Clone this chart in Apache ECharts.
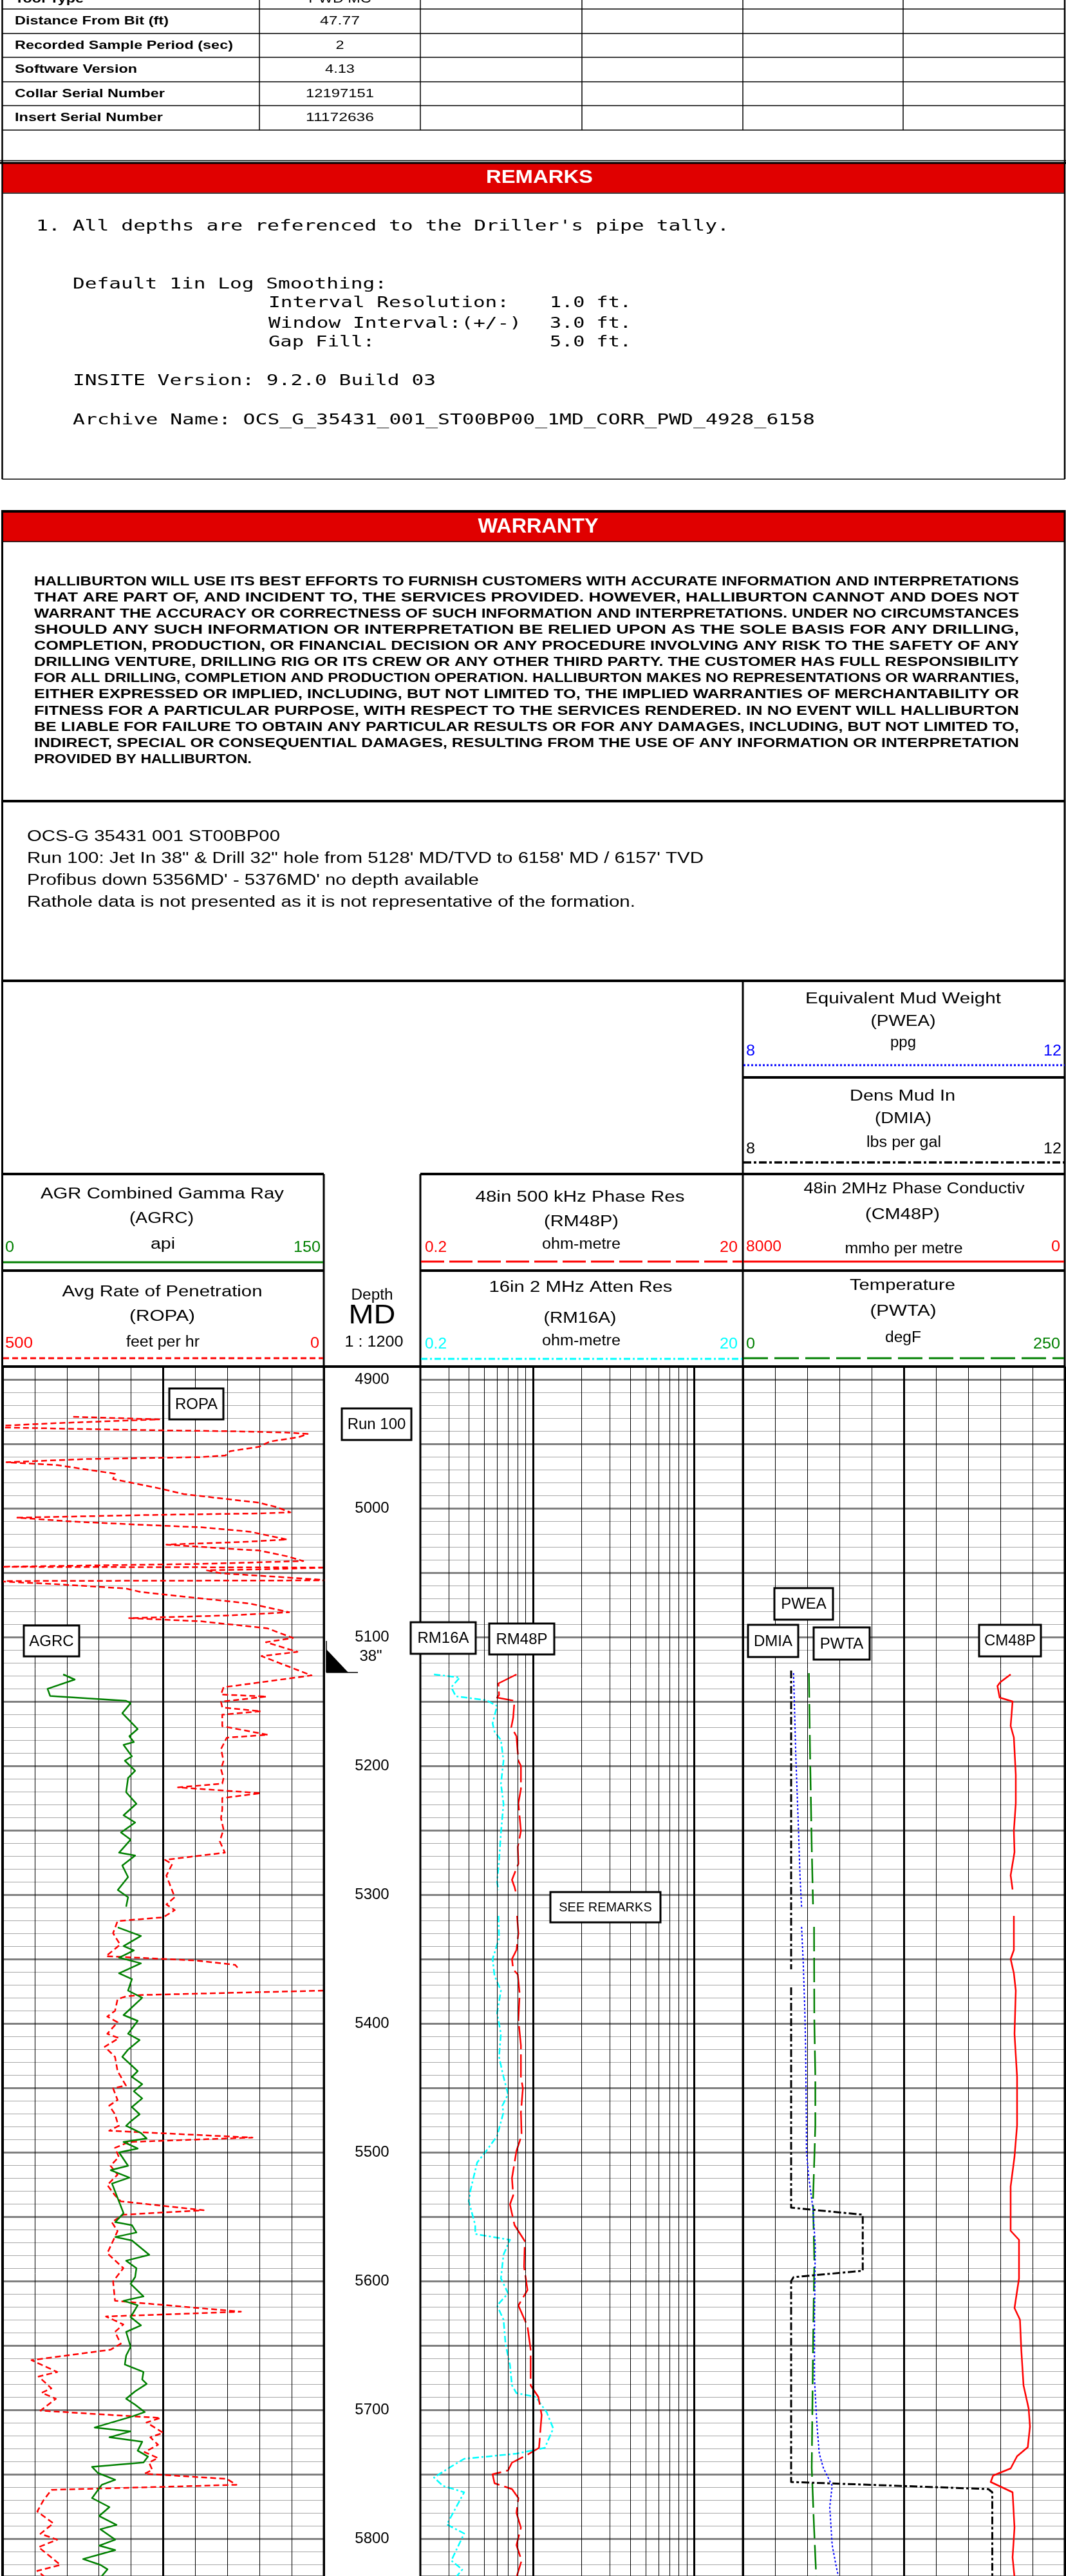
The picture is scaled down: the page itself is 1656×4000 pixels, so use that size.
<!DOCTYPE html>
<html><head><meta charset="utf-8">
<script src="https://cdn.jsdelivr.net/npm/echarts@6/dist/echarts.min.js"></script>
<style>html,body{margin:0;padding:0;background:#fff}#c{width:1656px;height:4000px}</style>
</head><body><div id="c"></div>
<script>
// ---------------- DATA ----------------
const depthRange = [4900, 5829];
const tableLabels = ['Tool Type','Distance From Bit (ft)','Recorded Sample Period (sec)','Software Version','Collar Serial Number','Insert Serial Number'];
const tableValues = ['PWD MC','47.77','2','4.13','12197151','11172636'];
const depthLabelStep = 100;
const logGridValues = [0.3,0.4,0.5,0.6,0.7,0.8,0.9,1,2,3,4,5,6,7,8,9,10];
// [depth ft, ROP ft/hr]
const ropa = [[4929,390],[4931,256],[4934,420],[4936,505],[4937.3,500],[4938.5,370],[4939.5,254],[4940.2,146],[4941.2,57],[4942.3,25],[4944.8,39],[4948.2,84],[4952.3,101],[4955.7,146],[4959,153],[4960.3,191],[4961.8,370],[4964.3,494],[4966.5,415],[4973.2,325],[4977.3,328],[4984.8,254],[4989,218],[4995.7,101],[4999,74],[5003.2,52],[5004,101],[5005.3,281],[5007.3,477],[5010.3,392],[5012.7,290],[5014.8,191],[5018.2,115],[5024.3,57],[5026,119],[5028.2,245],[5031.5,146],[5032.8,101],[5037.3,57],[5041,32],[5043.2,191],[5045.5,515],[5046,-10],[5047,60],[5048.2,182],[5050.5,160],[5053,80],[5056,-10],[5056.5,515],[5059,415],[5062.3,308],[5065,285],[5070,191],[5074,115],[5080.7,54],[5083.2,146],[5085.3,303],[5087.8,191],[5093.2,88],[5100.7,48],[5104,90],[5111.5,41],[5114.8,97],[5129.8,19],[5139,156],[5144.6,160],[5146.2,89],[5150.2,160],[5154.7,158],[5157.6,98],[5160.3,158],[5169.2,158],[5175.9,87],[5178.1,151],[5187,160],[5196,156],[5202.7,160],[5209.4,156],[5213.8,158],[5216.7,227],[5221.2,98],[5225,158],[5233.9,158],[5240.6,160],[5249.5,156],[5258.5,162],[5267.4,154],[5273,247],[5276.3,236],[5285.2,245],[5302,232],[5307.6,245],[5312,232],[5317.6,250],[5320.5,321],[5329.9,328],[5338.8,317],[5347.8,339],[5351.1,200],[5354.5,138],[5358.5,131],null,[5374.5,0],[5377.9,283],[5379,308],[5381.2,321],[5390.2,325],[5394.6,337],[5399.1,321],[5408,337],[5411.4,319],[5418.1,341],[5425.9,325],[5437,321],[5448.2,308],[5450.4,328],[5459.4,321],[5463.8,334],[5470.5,325],[5477.2,321],[5479.4,319],[5483.3,334],[5488.6,111],[5492,303],[5496.6,325],[5503.6,319],[5510.5,332],[5517.4,321],[5525.5,337],[5533.5,325],[5538.1,316],[5545,187],[5548.5,312],[5554.3,330],[5561.2,321],[5578.4,337],[5590,312],[5600.3,328],[5615.3,325],[5623.8,129],[5627.5,339],[5633.7,312],[5639.5,325],[5648.7,316],[5653.3,332],[5661.4,455],[5670.6,415],[5674.1,444],[5683.3,424],[5686.7,439],[5691.4,417],[5700.6,441],[5706.3,254],[5709.8,276],[5717.8,250],[5721.3,270],[5727.1,258],[5732.8,279],[5737.4,258],[5740.9,272],[5746.6,267],[5749.6,279],[5753.6,151],[5758.2,136],[5762.1,424],[5770.8,437],[5778.9,446],[5788.1,421],[5796.2,441],[5800.8,415],[5806.6,444],[5814.6,424],[5820.4,410],[5825,446],[5830.3,433]];
// [depth, API]
const agrc = [[5129,28.3],[5133,33.7],[5140.2,21],[5145.7,22.2],[5149.5,57.7],[5151.3,59.8],[5159.1,55.9],[5171.4,63.1],[5177,59.2],[5181.5,61.3],[5183.7,56.5],[5192.6,60.4],[5196,57.1],[5203.8,61.9],[5209.4,58.6],[5220.5,57.7],[5229.4,62.5],[5238.4,56.5],[5244,61.9],[5251.8,55.3],[5257.3,59.8],[5267.4,54.4],[5269.6,61.9],[5277.4,55.9],[5286.4,58.6],[5296.4,53.8],[5302,58.6],[5309.4,57.7],null,[5325.4,53.8],[5332.1,64.6],[5339.9,56.5],[5343.3,61.3],[5348.9,54.4],[5353.3,64.6],[5361.1,54.4],[5365.6,60.4],[5374.5,58.6],[5380.1,65.2],[5393.5,56.5],[5398,63.1],[5408,58.6],[5412.9,64],[5420.3,58.6],[5425.9,55.9],[5437,63.1],[5441.5,60.4],[5447.1,65.2],[5452.7,61.3],[5458.2,65.2],[5464.9,60.4],[5470.5,64],[5476.1,59.8],[5479.4,57.7],[5485.1,64.6],[5489.3,67.3],[5492,56.5],[5497.1,63.1],[5500.1,54.4],[5510.5,58.6],[5513.9,50.5],[5519.7,59.2],[5524.3,51.1],[5535.8,53.8],[5547.3,56.5],[5554.3,52.6],[5556.6,60.4],[5562.3,62.5],[5565.8,52.6],[5568.5,60.4],[5579.6,68.5],[5584.2,57.7],[5590,62.5],[5596.9,61.9],[5602.2,59.8],[5611.9,65.8],[5615.3,56.5],[5618.8,63.1],[5628,59.8],[5634.4,64.6],[5639.5,57.7],[5651,59.8],[5657.9,57.7],[5664.8,57.1],[5670.6,65.8],[5676.4,65.2],[5679.8,67.3],[5685.6,61.9],[5691.4,57.7],[5696,61.9],[5701.7,66.4],[5705.2,60.4],[5713.7,43],[5716.7,59.8],[5721.3,49.9],[5724.8,65.2],[5731.7,63.1],[5736.3,67.9],[5740.9,65.8],[5744.3,41.8],[5749,44.5],[5754.3,52.6],[5758.2,46.3],[5768.5,41.8],[5775.5,49.9],[5782.4,45.1],[5789.3,53.2],[5792.7,45.7],[5800.8,52.6],[5805.4,45.1],[5808.9,52.6],[5815.8,37.6],[5820.4,45.7],[5823.8,49],[5830.3,45.7]];
// [depth, ohm-m]
const rm48p = [[5129,0.79],[5136,0.61],[5145,0.615],[5147,0.598],[5149.5,0.767],[5162.5,0.753],[5170,0.733],[5177,0.789],[5196,0.811],[5200,0.841],[5218,0.841],[5229,0.811],[5250.5,0.841],[5263,0.804],[5276,0.811],[5288.5,0.74],[5294,0.767],[5297.5,0.78],null,[5316.5,0.796],[5330,0.811],[5343,0.789],[5350,0.74],[5358,0.753],[5362,0.804],[5377,0.826],[5397,0.811],[5417,0.841],[5441.5,0.841],[5450.5,0.865],[5457,0.856],[5469,0.841],[5487,0.849],[5499,0.789],[5520,0.74],[5533.5,0.753],[5540.5,0.719],[5556.5,0.767],[5569,0.889],[5589,0.88],[5607,0.923],[5619,0.811],[5635,0.923],[5653,0.966],[5681,0.966],[5690,1.079],[5704,1.13],[5729.5,1.089],[5734,0.948],[5741,0.74],[5747,0.70],[5750,0.561],[5757,0.577],[5761.5,0.74],[5768.5,0.811],[5780,0.789],[5791.5,0.841],[5805,0.789],[5817,0.849],[5830,0.789]];
const rm16a = [[5129,0.243],[5131.5,0.351],[5139,0.311],[5146,0.332],[5149,0.512],[5153.5,0.598],[5167,0.561],[5173.5,0.577],[5180,0.632],[5196,0.656],[5214,0.632],[5229.5,0.656],[5252,0.632],[5274,0.615],[5290,0.598],[5296.5,0.61],null,[5316.5,0.61],[5334,0.615],[5350,0.561],[5363,0.577],[5374.5,0.632],[5392,0.598],[5408,0.632],[5426,0.615],[5441.5,0.656],[5455,0.70],[5464,0.644],[5469,0.656],[5487.5,0.598],[5499,0.512],[5508,0.45],[5529,0.41],[5538,0.399],[5556.5,0.438],[5563.5,0.438],[5568,0.719],[5579.5,0.656],[5598,0.632],[5609.5,0.70],[5619,0.598],[5630,0.656],[5649,0.675],[5665,0.719],[5681,0.74],[5687,0.789],[5690,1.04],[5702,1.216],[5714.5,1.334],[5729.5,1.183],[5734,0.789],[5738,0.374],[5744,0.311],[5752.5,0.243],[5759,0.276],[5764,0.374],[5789,0.292],[5796,0.374],[5817,0.311],[5824,0.364],[5830,0.332]];
// [depth, ppg]
const pwea = [[5128,8.63],[5196,8.66],[5247,8.69],[5285,8.71],[5310,8.73],null,[5325,8.73],[5352,8.75],[5390,8.77],[5419,8.78],[5479,8.79],[5499,8.79],[5520,8.82],[5543,8.87],[5573,8.9],[5630,8.89],[5676,8.89],[5711,8.92],[5734,8.95],[5745,9.0],[5759,9.11],[5775.5,9.08],[5805,9.11],[5821.5,9.16],[5830,9.19]];
const dmia = [[5126,8.6],[5358,8.6],null,[5372,8.6],[5543,8.6],[5548.5,9.49],[5592,9.49],[5597,8.63],[5600,8.6],[5756,8.6],[5761.5,11.05],[5764,11.1],[5830,11.1]];
// [depth, degF]
const pwta = [[5128,51.3],[5196,52.3],[5263,53.5],[5307.5,54.5],null,[5325,55.3],[5397,55.5],[5441.5,56.3],[5479,56.3],[5538,54.5],[5584,55.5],[5653,54.5],[5699,54],[5745,53.5],[5791.5,55.3],[5830,57]];
// [depth, mmho/m]
const cm48p = [[5129,1344],[5135,1600],[5138,1672],[5147,1616],[5150,1296],[5169,1344],[5178,1264],[5207,1216],[5229,1216],[5250.5,1264],[5267,1248],[5285,1344],[5296,1296],null,[5316.5,1264],[5343,1264],[5350,1344],[5361,1264],[5374.5,1216],[5408,1248],[5441.5,1184],[5479,1184],[5503.5,1248],[5526.6,1344],[5561,1344],[5568,1136],[5598,1136],[5621,1248],[5630,1112],[5653,1080],[5681,1024],[5699,896],[5713,864],[5729,918],[5736,1184],[5745.5,1344],[5751,1779],[5756,1840],[5760,1568],[5764,1296],[5791.5,1248],[5814.6,1296],[5830,1248]];

const remarkLines = [
  ["1. All depths are referenced to the Driller's pipe tally.", 0, 352],
  ["Default 1in Log Smoothing:", 3, 442],
  ["Interval Resolution:", 19, 471], ["1.0 ft.", 42, 471],
  ["Window Interval:(+/-)", 19, 503], ["3.0 ft.", 42, 503],
  ["Gap Fill:", 19, 532], ["5.0 ft.", 42, 532],
  ["INSITE Version: 9.2.0 Build 03", 3, 592],
  ["Archive Name: OCS_G_35431_001_ST00BP00_1MD_CORR_PWD_4928_6158", 3, 653]
];
const warrantyLines = [
 "HALLIBURTON WILL USE ITS BEST EFFORTS TO FURNISH CUSTOMERS WITH ACCURATE INFORMATION AND INTERPRETATIONS",
 "THAT ARE PART OF, AND INCIDENT TO, THE SERVICES PROVIDED. HOWEVER, HALLIBURTON CANNOT AND DOES NOT",
 "WARRANT THE ACCURACY OR CORRECTNESS OF SUCH INFORMATION AND INTERPRETATIONS. UNDER NO CIRCUMSTANCES",
 "SHOULD ANY SUCH INFORMATION OR INTERPRETATION BE RELIED UPON AS THE SOLE BASIS FOR ANY DRILLING,",
 "COMPLETION, PRODUCTION, OR FINANCIAL DECISION OR ANY PROCEDURE INVOLVING ANY RISK TO THE SAFETY OF ANY",
 "DRILLING VENTURE, DRILLING RIG OR ITS CREW OR ANY OTHER THIRD PARTY. THE CUSTOMER HAS FULL RESPONSIBILITY",
 "FOR ALL DRILLING, COMPLETION AND PRODUCTION OPERATION. HALLIBURTON MAKES NO REPRESENTATIONS OR WARRANTIES,",
 "EITHER EXPRESSED OR IMPLIED, INCLUDING, BUT NOT LIMITED TO, THE IMPLIED WARRANTIES OF MERCHANTABILITY OR",
 "FITNESS FOR A PARTICULAR PURPOSE, WITH RESPECT TO THE SERVICES RENDERED. IN NO EVENT WILL HALLIBURTON",
 "BE LIABLE FOR FAILURE TO OBTAIN ANY PARTICULAR RESULTS OR FOR ANY DAMAGES, INCLUDING, BUT NOT LIMITED TO,",
 "INDIRECT, SPECIAL OR CONSEQUENTIAL DAMAGES, RESULTING FROM THE USE OF ANY INFORMATION OR INTERPRETATION",
 "PROVIDED BY HALLIBURTON."
];
const infoLines = [
 ['OCS-G 35431 001 ST00BP00', 393],
 ['Run 100: Jet In 38" & Drill 32" hole from 5128\' MD/TVD to 6158\' MD / 6157\' TVD', 1051],
 ["Profibus down 5356MD' - 5376MD' no depth available", 702],
 ['Rathole data is not presented as it is not representative of the formation.', 945]
];

// ---------------- HELPERS ----------------
const FONT = 'Liberation Sans';
const RED = '#ff0000', GREEN = '#008000', BLUE = '#0000ff', CYAN = '#00ffff', BAND = '#e00000';
const mctx = document.createElement('canvas').getContext('2d');
const G = [];
function text(str, x, y, o) {
  o = o || {};
  const size = o.size || 23, weight = o.weight || 'normal', fam = o.family || FONT;
  const font = weight + ' ' + size + 'px "' + fam + '"';
  mctx.font = font;
  let sx = o.sx || 1;
  if (o.w) sx = o.w / mctx.measureText(str).width;
  const align = o.align || 'center';
  G.push({type:'text', x:x, y:y, scaleX:sx, scaleY:1, z:o.z || 20, silent:true,
    style:{text:str, x:0, y:0, font:font, fill:o.color || '#000', align:align, verticalAlign:'middle', textAlign:align, textVerticalAlign:'middle'}});
}
function line(x1, y1, x2, y2, w, color, dash, z) {
  G.push({type:'line', z:z || 15, silent:true, shape:{x1:x1, y1:y1, x2:x2, y2:y2},
    style:{stroke:color || '#000', lineWidth:w || 1.5, lineDash:dash || null}});
}
function rect(x, y, w, h, fill, stroke, lw, z) {
  G.push({type:'rect', z:z || 10, silent:true, shape:{x:x, y:y, width:w, height:h},
    style:{fill:fill || 'none', stroke:stroke || null, lineWidth:lw || 0}});
}
function box(label, x, y, w, h, size) {
  rect(x, y, w, h, '#fff', '#000', 3, 30);
  text(label, x + w / 2, y + h / 2 + 1, {size:size || 24, z:31});
}

const ST = {
  agrc:{color:GREEN, width:2.5, type:'solid'},
  ropa:{color:RED, width:2.5, type:[9,5]},
  rm48p:{color:RED, width:2.5, type:[36,8]},
  rm16a:{color:CYAN, width:2.5, type:[10,4,3,4]},
  pwea:{color:BLUE, width:2, type:[3,3]},
  dmia:{color:'#000', width:3, type:[12,4,4,4]},
  pwta:{color:GREEN, width:2.5, type:[38,10]},
  cm48p:{color:RED, width:2.5, type:'solid'}
};

// ---------------- PAGE GRAPHICS (header) ----------------
const L = 3.5, R = 1654;
[14, 52, 89, 127, 164, 202].forEach(y => line(L, y, R, y, 1.5));
[403, 653, 904, 1154, 1403].forEach(x => line(x, 0, x, 202, 1.5));
const rowY = [-1, 33, 71, 108, 146, 183];
const labW = [0, 239, 339, 190, 233, 230];
const valW = [0, 62, 0, 46, 106, 106];
tableLabels.forEach((t, i) => text(t, 23, rowY[i], {size:18, weight:'bold', align:'left', w:labW[i] || null, sx:1.3}));
tableValues.forEach((t, i) => text(t, 528, rowY[i], {size:18, w:valW[i] || null, sx:1.3}));
line(L, 0, L, 744, 2.5); line(R, 0, R, 744, 2.5);
line(0, 249.5, 1656, 249.5, 1.5);
line(0, 253, 1656, 253, 3);
rect(L, 254, R - L, 45, BAND);
line(L, 300, R, 300, 1.5);
text('REMARKS', 838, 276, {size:29, weight:'bold', color:'#fff', w:166});
remarkLines.forEach(r => {
  text(r[0], 56 + r[1] * 19, r[2], {size:23, family:'DejaVu Sans Mono', align:'left', w:r[0].length * 19 - 6});
});
line(L, 744, R, 744, 1.5);
line(L, 794, R, 794, 4);
rect(L, 796, R - L, 45, BAND);
line(L, 841, R, 841, 1.5);
line(L, 792, L, 4000, 3); line(R, 792, R, 4000, 3);
text('WARRANTY', 836, 818, {size:31, weight:'bold', color:'#fff', w:187});
warrantyLines.forEach((t, i) => {
  const last = i === warrantyLines.length - 1;
  text(t, 53, 903 + 25.1 * i, {size:21, weight:'bold', align:'left', w:last ? 338 : 1530});
});
line(L, 1244, R, 1244, 4);
infoLines.forEach((t, i) => text(t[0], 42, 1300 + 34 * i, {size:23, align:'left', w:t[1]}));
line(L, 1523, R, 1523, 4);
line(1154, 1523, 1154, 4000, 3);
text('Equivalent Mud Weight', 1403, 1552, {w:304});
text('(PWEA)', 1403, 1587, {w:101});
text('ppg', 1403, 1620, {w:40});
text('8', 1159, 1633, {align:'left', color:BLUE, sx:1.1});
text('12', 1649, 1633, {align:'right', color:BLUE, w:28});
line(1155, 1654, 1654, 1654, 3, BLUE, ST.pwea.type);
line(1154, 1673, R, 1673, 4);
text('Dens Mud In', 1402, 1703, {w:164});
text('(DMIA)', 1403, 1738, {w:88});
text('lbs per gal', 1404, 1775, {w:116});
text('8', 1159, 1785, {align:'left', sx:1.1});
text('12', 1649, 1785, {align:'right', w:28});
line(1155, 1805, 1654, 1805, 3.5, '#000', ST.dmia.type);
line(L, 1823, 503, 1823, 4); line(653, 1823, R, 1823, 4);
line(503, 1823, 503, 4000, 3); line(653, 1823, 653, 4000, 3);
text('AGR Combined Gamma Ray', 252, 1855, {w:378});
text('(AGRC)', 251, 1893, {w:100});
text('api', 253, 1933, {w:38});
text('0', 8, 1938, {align:'left', color:GREEN, sx:1.1});
text('150', 498, 1938, {align:'right', color:GREEN, w:42});
line(5, 1960, 502, 1960, 3, GREEN);
text('48in 500 kHz Phase Res', 901, 1860, {w:325});
text('(RM48P)', 903, 1898, {w:116});
text('ohm-metre', 903, 1933, {w:122});
text('0.2', 660, 1938, {align:'left', color:RED, w:34});
text('20', 1146, 1938, {align:'right', color:RED, w:28});
line(654, 1959, 1153, 1959, 3, RED, ST.rm48p.type);
text('48in 2MHz Phase Conductiv', 1420, 1847, {w:343});
text('(CM48P)', 1402, 1887, {w:116});
text('8000', 1159, 1937, {align:'left', color:RED, w:55});
text('mmho per metre', 1404, 1940, {w:183});
text('0', 1647, 1937, {align:'right', color:RED, sx:1.1});
line(1155, 1959, 1653, 1959, 3, RED);
line(L, 1973, 503, 1973, 4); line(653, 1973, R, 1973, 4);
text('Avg Rate of Penetration', 252, 2007, {w:311});
text('(ROPA)', 252, 2045, {w:102});
text('feet per hr', 253, 2085, {w:114});
text('500', 8, 2087, {align:'left', color:RED, w:43});
text('0', 496, 2087, {align:'right', color:RED, sx:1.1});
line(5, 2109, 502, 2109, 3, RED, ST.ropa.type);
text('Depth', 578, 2012, {w:65});
text('MD', 578, 2043, {size:42, w:73});
text('1 : 1200', 581, 2085, {w:91});
text('16in 2 MHz Atten Res', 902, 2000, {w:285});
text('(RM16A)', 901, 2048, {w:113});
text('ohm-metre', 903, 2083, {w:122});
text('0.2', 660, 2088, {align:'left', color:CYAN, w:34});
text('20', 1146, 2088, {align:'right', color:CYAN, w:28});
line(654, 2110, 1153, 2110, 3, CYAN, ST.rm16a.type);
text('Temperature', 1402, 1997, {w:164});
text('(PWTA)', 1403, 2037, {w:103});
text('degF', 1403, 2078, {w:56});
text('0', 1159, 2088, {align:'left', color:GREEN, sx:1.1});
text('250', 1647, 2088, {align:'right', color:GREEN, w:42});
line(1155, 2109, 1653, 2109, 3, GREEN, ST.pwta.type);
line(L, 2122, R, 2122, 4);

box('ROPA', 263, 2156, 84, 48);
box('Run 100', 531, 2187, 108, 49);
box('AGRC', 37, 2524, 86, 48);
box('RM16A', 638, 2519, 101, 49);
box('RM48P', 760, 2521, 101, 48);
box('PWEA', 1203, 2466, 91, 49);
box('DMIA', 1162, 2523, 78, 50);
box('PWTA', 1264, 2527, 87, 50);
box('CM48P', 1521, 2523, 96, 49);
box('SEE REMARKS', 855, 2938, 171, 47, 20);
text('38"', 576, 2572, {size:24});
G.push({type:'polygon', z:20, silent:true, shape:{points:[[507,2561],[507,2597],[541,2597]]}, style:{fill:'#000'}});
line(507, 2548, 507, 2597, 1.5, '#000', null, 20);
line(507, 2597, 556, 2597, 1.5, '#000', null, 20);

// ---------------- ECHARTS GRIDS / AXES ----------------
const Y0 = 2142, YH = 1858, DMIN = depthRange[0], DMAX = depthRange[1];
const grids = [], xAxis = [], yAxis = [], series = [];
const noAx = {axisLine:{show:false}, axisTick:{show:false}, axisLabel:{show:false}};
function addGrid(g, xa, ya) {
  grids.push(g); const gi = grids.length - 1;
  xa.gridIndex = gi; ya.gridIndex = gi; xAxis.push(xa); yAxis.push(ya);
  return {gi:gi, xi:xAxis.length - 1, yi:yAxis.length - 1};
}
function depthAxis(extra) {
  return Object.assign({type:'value', min:DMIN, max:DMAX, inverse:true, show:false}, extra || {});
}
function hgrid(left, width) {
  const r = addGrid({left:left, top:Y0, width:width, height:YH}, {type:'value', show:false, min:0, max:1},
    depthAxis(Object.assign({show:true, interval:10, splitLine:{show:true, lineStyle:{color:'#a8a8a8', width:1}}}, noAx)));
  yAxis.push(depthAxis(Object.assign({gridIndex:r.gi, show:true, position:'right', interval:50, splitLine:{show:true, lineStyle:{color:'#808080', width:3}}}, noAx)));
}
hgrid(4, 499);
hgrid(653, 1001);
function vgrid(left, width) {
  const r = addGrid({left:left, top:2122, width:width, height:1878},
    Object.assign({type:'value', min:0, max:10, interval:1, splitLine:{show:true, lineStyle:{color:'#000', width:1}}}, noAx),
    {type:'value', show:false, min:0, max:1});
  xAxis.push(Object.assign({gridIndex:r.gi, type:'value', min:0, max:2, interval:1, position:'top', splitLine:{show:true, lineStyle:{color:'#000', width:3}}}, noAx));
}
vgrid(4, 499);
vgrid(1154, 500);
(function () {
  const r = addGrid({left:653, top:2122, width:501, height:1878},
    {type:'log', logBase:10, min:0.2, max:20, show:false}, {type:'value', show:false, min:0, max:1});
  series.push({type:'line', xAxisIndex:r.xi, yAxisIndex:r.yi, data:[[1, 0.5]], showSymbol:false, silent:true, z:1,
    lineStyle:{width:0},
    markLine:{silent:true, symbol:['none','none'], animation:false, label:{show:false},
      data:logGridValues.map(v => ({xAxis:v, lineStyle:{color:'#000', type:'solid', width:(v === 1 || v === 10) ? 3 : 1}}))}});
})();
addGrid({left:578, top:Y0, width:1, height:YH}, {type:'value', show:false, min:0, max:1},
  depthAxis({show:true, interval:depthLabelStep, axisLine:{show:false}, axisTick:{show:false}, splitLine:{show:false},
    axisLabel:{show:true, margin:0, align:'center', fontSize:24, fontFamily:FONT, color:'#000', showMaxLabel:false, showMinLabel:true,
      formatter: v => String(v)}}));

function segs(arr) {
  const out = [[]];
  arr.forEach(p => { if (p === null) out.push([]); else out[out.length - 1].push([p[1], p[0]]); });
  return out.filter(s => s.length);
}
function curve(name, arr, ax, st) {
  segs(arr).forEach(d => series.push({name:name, type:'line', xAxisIndex:ax.xi, yAxisIndex:ax.yi, data:d,
    showSymbol:false, symbol:'none', silent:true, z:3, clip:true,
    lineStyle:{color:st.color, width:st.width, type:st.type, cap:'butt', join:'round'}}));
}
const axGR = addGrid({left:4, top:Y0, width:499, height:YH}, {type:'value', min:0, max:150, show:false}, depthAxis());
const axROP = addGrid({left:4, top:Y0, width:499, height:YH}, {type:'value', min:0, max:500, inverse:true, show:false}, depthAxis());
const axRES = addGrid({left:653, top:Y0, width:501, height:YH}, {type:'log', logBase:10, min:0.2, max:20, show:false}, depthAxis());
const axMW = addGrid({left:1154, top:Y0, width:500, height:YH}, {type:'value', min:8, max:12, show:false}, depthAxis());
const axT = addGrid({left:1154, top:Y0, width:500, height:YH}, {type:'value', min:0, max:250, show:false}, depthAxis());
const axC = addGrid({left:1154, top:Y0, width:500, height:YH}, {type:'value', min:0, max:8000, inverse:true, show:false}, depthAxis());

curve('ROPA', ropa, axROP, ST.ropa);
curve('AGRC', agrc, axGR, ST.agrc);
curve('RM16A', rm16a, axRES, ST.rm16a);
curve('RM48P', rm48p, axRES, ST.rm48p);
curve('PWTA', pwta, axT, ST.pwta);
curve('DMIA', dmia, axMW, ST.dmia);
curve('PWEA', pwea, axMW, ST.pwea);
curve('CM48P', cm48p, axC, ST.cm48p);

const chart = echarts.init(document.getElementById('c'), null, {renderer:'canvas', devicePixelRatio:1, width:1656, height:4000});
chart.setOption({
  animation:false,
  backgroundColor:'#fff',
  grid:grids, xAxis:xAxis, yAxis:yAxis, series:series,
  graphic:{elements:G}
});
</script></body></html>
